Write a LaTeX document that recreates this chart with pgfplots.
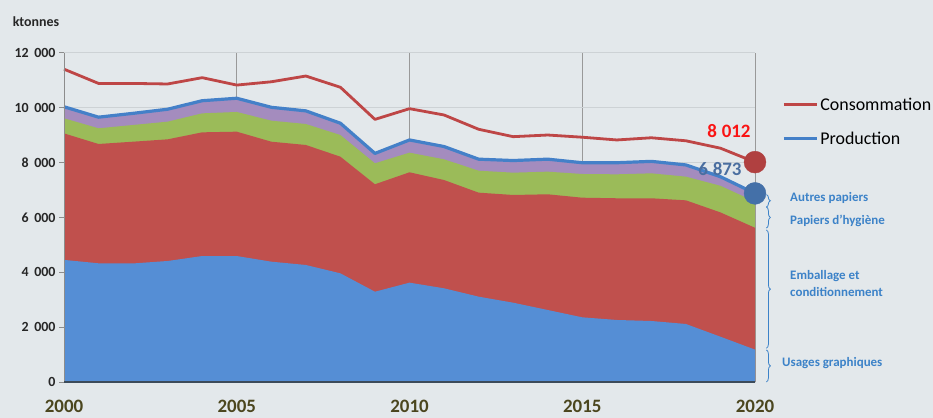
\documentclass[border=0pt]{standalone}
\usepackage{pgfplots}
\pgfplotsset{compat=1.18}
\usepackage{pgfplotstable}
\usepackage{fontspec}
\setmainfont{Carlito}
\usetikzlibrary{decorations.pathreplacing}
\definecolor{bg}{RGB}{227,232,235}
\definecolor{cBlue}{RGB}{85,142,213}
\definecolor{cRed}{RGB}{192,80,77}
\definecolor{cGreen}{RGB}{155,187,89}
\definecolor{cPurple}{RGB}{164,140,190}
\definecolor{lProd}{RGB}{68,128,200}
\definecolor{lCons}{RGB}{190,70,70}
\definecolor{olive}{RGB}{75,70,30}
\definecolor{lblBlue}{RGB}{60,130,200}
\definecolor{dotRed}{RGB}{176,64,64}
\definecolor{dotBlue}{RGB}{68,112,168}
\definecolor{numBlue}{RGB}{74,110,160}
\definecolor{numRed}{RGB}{250,20,20}
\definecolor{gridY}{RGB}{205,210,213}

% tops of the stacked layers (ktonnes)
\pgfplotstableread{
year ug    red   green prod  cons
2000 4450  9060  9610  10030 11400
2001 4325  8673  9245  9650  10880
2002 4320  8757  9366  9790  10880
2003 4410  8843  9487  9940  10860
2004 4590  9098  9790  10250 11090
2005 4590  9122  9840  10340 10820
2006 4385  8757  9523  10010 10940
2007 4264  8637  9402  9880  11150
2008 3960  8210  9000  9430  10740
2009 3290  7205  7970  8330  9570
2010 3620  7642  8357  8820  9960
2011 3414  7360  8115  8580  9730
2012 3110  6900  7700  8120  9210
2013 2890  6815  7628  8070  8940
2014 2624  6840  7665  8120  9000
2015 2357  6716  7580  7990  8920
2016 2260  6695  7568  7990  8820
2017 2223  6695  7604  8040  8900
2018 2114  6620  7483  7910  8790
2019 1650  6180  7150  7480  8520
2020 1180  5620  6570  6873  8012
}\data

\begin{document}
\begin{tikzpicture}
\path[use as bounding box, fill=bg] (0,0) rectangle (933bp,418bp);
\begin{axis}[
  at={(64bp,36bp)}, anchor=south west,
  scale only axis, width=691bp, height=329.3bp,
  xmin=2000, xmax=2020, ymin=0, ymax=12000,
  clip=false,
  scaled y ticks=false, scaled x ticks=false,
  axis x line*=bottom, axis y line*=left,
  x axis line style={draw=none},
  y axis line style={draw=none},
  xtick={2000,2005,2010,2015,2020},
  xticklabels={2000,2005,2010,2015,2020},
  xtick style={draw=none},
  xticklabel style={font=\bfseries\fontsize{19}{19}\selectfont, text=olive, anchor=north, inner sep=0pt, yshift=-13bp},
  ytick={0,2000,4000,6000,8000,10000,12000},
  yticklabels={0,2\hspace{0.4em}000,4\hspace{0.4em}000,6\hspace{0.4em}000,8\hspace{0.4em}000,10\hspace{0.4em}000,12\hspace{0.4em}000},
  yticklabel style={font=\bfseries\fontsize{14}{14}\selectfont, text=black!85},
  tick align=outside, major tick length=5bp,
  ytick style={color=black!45, line width=0.8bp},
  xmajorgrids, ymajorgrids,
  every axis x grid/.style={color=black!40, line width=1bp},
  every axis y grid/.style={color=gridY, line width=1bp},
  legend style={draw=none, fill=none, at={(axis description cs:1.039,0.79)}, anchor=west,
    font=\fontsize{18}{18}\selectfont, row sep=16bp, inner sep=0pt,
    cells={anchor=west}},
  legend image code/.code={\draw[#1] (0bp,0bp) -- (33bp,0bp);},
]
\addplot[fill=cPurple, draw=none, forget plot] table[x=year,y=prod]{\data} \closedcycle;
\addplot[fill=cGreen, draw=none, forget plot] table[x=year,y=green]{\data} \closedcycle;
\addplot[fill=cRed, draw=none, forget plot] table[x=year,y=red]{\data} \closedcycle;
\addplot[fill=cBlue, draw=none, forget plot] table[x=year,y=ug]{\data} \closedcycle;
\addplot[lCons, line width=2.8bp, line join=round] table[x=year,y=cons]{\data};
\addlegendentry{Consommation}
\addplot[lProd, line width=3.2bp, line join=round] table[x=year,y=prod]{\data};
\addlegendentry{Production}
\addplot[only marks, mark=*, mark size=11pt, color=dotRed, forget plot] coordinates {(2020,8012)};
\addplot[only marks, mark=*, mark size=11pt, color=dotBlue, forget plot] coordinates {(2020,6873)};
% axis lines
\draw[color=black!45, line width=1bp] (axis cs:2000,0) -- (axis cs:2000,12000);
\draw[color={rgb,255:red,60;green,75;blue,90}, line width=2bp] (axis cs:2000,0) -- (axis cs:2020,0);
% braces
\begin{scope}[lblBlue, line width=0.8bp, decoration={brace, amplitude=4bp}]
\draw[decorate] (axis cs:2020.33,6830) -- (axis cs:2020.33,6380);
\draw[decorate] (axis cs:2020.33,6380) -- (axis cs:2020.33,5610);
\draw[decorate] (axis cs:2020.33,5540) -- (axis cs:2020.33,1230);
\draw[decorate] (axis cs:2020.33,1170) -- (axis cs:2020.33,0);
\end{scope}
\end{axis}
\node[font=\bfseries\fontsize{14}{14}\selectfont, text=black!85] at (36bp,396bp) {ktonnes};
\node[font=\bfseries\fontsize{19}{19}\selectfont, text=numRed] at (729bp,287bp) {8\hspace{0.25em}012};
\node[font=\bfseries\fontsize{19}{19}\selectfont, text=numBlue] at (720bp,249bp) {6\hspace{0.25em}873};
\begin{scope}[every node/.style={font=\bfseries\fontsize{13}{17}\selectfont, text=lblBlue, anchor=west, inner sep=0pt}]
\node at (790bp,220bp) {Autres papiers};
\node at (790bp,197.3bp) {Papiers d’hygiène};
\node[align=left] at (790bp,134.5bp) {Emballage et\\conditionnement};
\node at (782bp,55.3bp) {Usages graphiques};
\end{scope}
\end{tikzpicture}
\end{document}
